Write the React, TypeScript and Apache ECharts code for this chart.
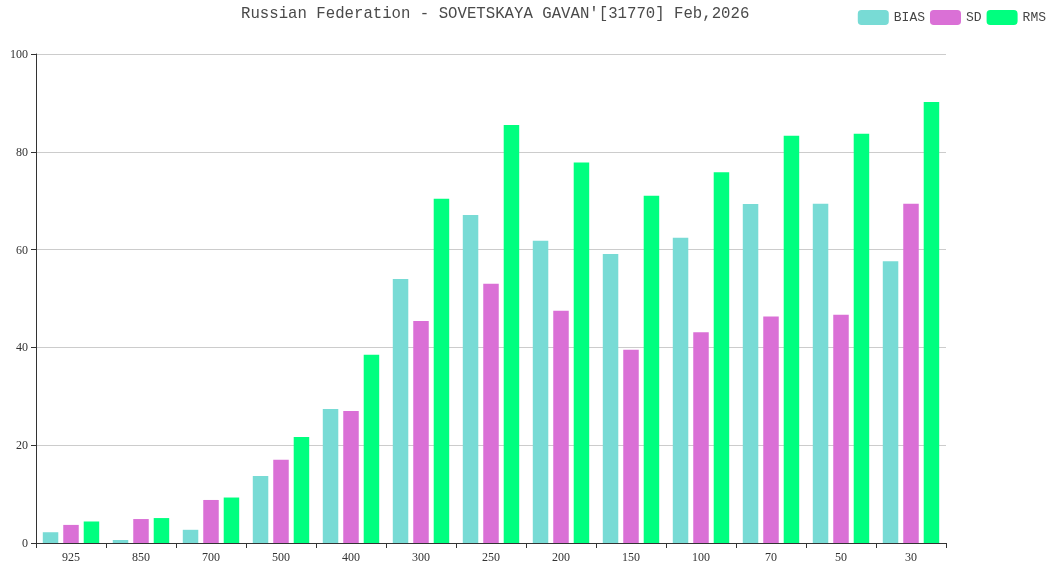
import React, { useEffect, useRef } from "react";
import * as echarts from "echarts";

const categories = ["925", "850", "700", "500", "400", "300", "250", "200", "150", "100", "70", "50", "30"];
const biasValues = [2.2, 0.6, 2.7, 13.7, 27.4, 54.0, 67.1, 61.8, 59.1, 62.4, 69.3, 69.4, 57.6];
const sdValues = [3.7, 4.9, 8.8, 17.0, 27.0, 45.4, 53.0, 47.5, 39.5, 43.1, 46.3, 46.7, 69.4];
const rmsValues = [4.4, 5.1, 9.3, 21.7, 38.5, 70.4, 85.5, 77.8, 71.0, 75.8, 83.3, 83.7, 90.2];

export default function App() {
  const ref = useRef<HTMLDivElement>(null);
  useEffect(() => {
    const chart = echarts.init(ref.current!, null, { renderer: "svg" });
    const serif = "'Liberation Serif', 'Times New Roman', serif";
    const mono = "'Liberation Mono', 'DejaVu Sans Mono', monospace";
    chart.setOption({
      animation: false,
      title: {
        text: "Russian Federation - SOVETSKAYA GAVAN'[31770] Feb,2026",
        left: 236,
        top: 1,
        textStyle: { fontFamily: mono, fontWeight: "normal", fontSize: 15.7, color: "#4a4a4a" },
      },
      legend: {
        right: 4,
        top: 5,
        itemWidth: 31,
        itemHeight: 15,
        itemGap: 5,
        icon: "roundRect",
        textStyle: { fontFamily: mono, fontSize: 13, color: "#444" },
        data: ["BIAS", "SD", "RMS"],
      },
      grid: { left: 36, right: 109, top: 54, bottom: 26 },
      xAxis: {
        type: "category",
        data: categories,
        axisLine: { lineStyle: { color: "#333" } },
        axisTick: { show: true, alignWithLabel: false },
        axisLabel: { fontFamily: serif, fontSize: 12, color: "#333" },
      },
      yAxis: {
        type: "value",
        min: 0,
        max: 100,
        interval: 20,
        axisLine: { show: true, lineStyle: { color: "#333" } },
        axisTick: { show: true },
        axisLabel: { fontFamily: serif, fontSize: 12, color: "#333" },
        splitLine: { lineStyle: { color: "#ccc" } },
      },
      series: [
        { name: "BIAS", type: "bar", data: biasValues, barWidth: 15.5, barGap: "32%", itemStyle: { color: "#78dbd5" } },
        { name: "SD", type: "bar", data: sdValues, barWidth: 15.5, barGap: "32%", itemStyle: { color: "#da70d6" } },
        { name: "RMS", type: "bar", data: rmsValues, barWidth: 15.5, barGap: "32%", itemStyle: { color: "#00ff7f" } },
      ],
    });
    return () => chart.dispose();
  }, []);
  return <div ref={ref} style={{ position: "fixed", left: 0, top: 0, width: 1055, height: 569 }} />;
}
